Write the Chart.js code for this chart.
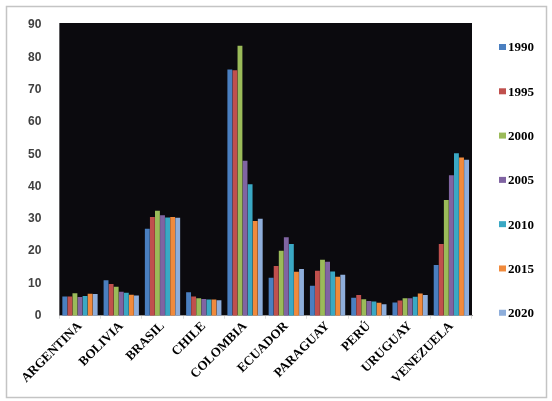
<!DOCTYPE html>
<html>
<head>
<meta charset="utf-8">
<script src="https://cdn.jsdelivr.net/npm/chart.js@4.4.1/dist/chart.umd.min.js"></script>
<style>
  html, body { margin: 0; padding: 0; background: #fff; }
  #wrap { width: 552px; height: 401px; }
</style>
</head>
<body>
<div id="wrap"><canvas id="chart" width="552" height="401"></canvas></div>
<script>
// categories + series
const countries = ['ARGENTINA', 'BOLIVIA', 'BRASIL', 'CHILE', 'COLOMBIA', 'ECUADOR', 'PARAGUAY', 'PERÚ', 'URUGUAY', 'VENEZUELA'];
const years = ['1990', '1995', '2000', '2005', '2010', '2015', '2020'];
const v1990 = [6.0, 11.0, 26.9, 7.3, 76.2, 11.8, 9.3, 5.6, 4.1, 15.7];
const v1995 = [6.0, 9.8, 30.6, 6.0, 76.0, 15.4, 13.9, 6.4, 4.7, 22.2];
const v2000 = [7.0, 9.0, 32.5, 5.4, 83.6, 20.1, 17.3, 5.1, 5.4, 35.8];
const v2005 = [5.8, 7.4, 31.1, 5.2, 48.0, 24.3, 16.7, 4.6, 5.4, 43.5];
const v2010 = [6.1, 7.1, 30.4, 5.0, 40.7, 22.2, 13.7, 4.4, 5.9, 50.3];
const v2015 = [6.8, 6.5, 30.6, 5.0, 29.3, 13.6, 12.1, 4.0, 6.9, 49.0];
const v2020 = [6.7, 6.3, 30.3, 4.8, 30.0, 14.5, 12.7, 3.6, 6.4, 48.3];
const yTicks = [0, 10, 20, 30, 40, 50, 60, 70, 80, 90];

const colors = ['#4a7fc0', '#c0504d', '#9bbb59', '#8064a2', '#3aa8c4', '#f08a3c', '#8eaedb'];
const series = [v1990, v1995, v2000, v2005, v2010, v2015, v2020];

// white page, grey frame, black plot area
const frame = {
  id: 'frame',
  beforeDraw(chart) {
    const { ctx, chartArea: a } = chart;
    ctx.save();
    ctx.fillStyle = '#fff';
    ctx.fillRect(0, 0, chart.width, chart.height);
    ctx.strokeStyle = '#c4c4c4';
    ctx.lineWidth = 1.5;
    ctx.strokeRect(6.5, 6.5, 540, 391);
    ctx.fillStyle = '#0b0a0e';
    ctx.fillRect(a.left, a.top - 2, a.right - a.left, a.bottom - a.top + 2);
    ctx.restore();
  }
};

// legend spread down the right side, like the original
const sideLegend = {
  id: 'sideLegend',
  afterDraw(chart) {
    const { ctx, chartArea: a } = chart;
    const sets = chart.data.datasets;
    const top = a.top + 22, bottom = a.bottom - 3;
    const step = (bottom - top) / (sets.length - 1);
    const x = a.right + 27;
    ctx.save();
    ctx.font = 'bold 13px "Liberation Serif", serif';
    ctx.textBaseline = 'middle';
    sets.forEach((ds, i) => {
      const y = top + i * step;
      ctx.fillStyle = ds.backgroundColor;
      ctx.fillRect(x, y - 3, 7, 6);
      ctx.fillStyle = '#000';
      ctx.fillText(ds.label, x + 9, y + 1);
    });
    ctx.restore();
  }
};

new Chart(document.getElementById('chart').getContext('2d'), {
  type: 'bar',
  data: {
    labels: countries,
    datasets: years.map((y, i) => ({
      label: y,
      data: series[i],
      backgroundColor: colors[i],
      borderWidth: 0,
      categoryPercentage: 0.86,
      barPercentage: 0.96,
    }))
  },
  options: {
    responsive: false,
    animation: false,
    layout: { padding: { top: 25, right: 80, left: 18, bottom: 14 } },
    plugins: { legend: { display: false }, tooltip: { enabled: false } },
    scales: {
      x: {
        grid: { display: true, drawOnChartArea: false, tickLength: 3, color: '#dddddd' },
        border: { color: '#9a9a9a' },
        ticks: {
          color: '#000',
          font: { family: '"Liberation Serif", serif', weight: 'bold', size: 13 },
          minRotation: 45, maxRotation: 45, padding: 0,
        }
      },
      y: {
        min: 0, max: 90,
        afterBuildTicks: axis => { axis.ticks = yTicks.map(v => ({ value: v })); },
        grid: { display: false },
        border: { display: false },
        ticks: {
          color: '#404040',
          font: { family: '"Liberation Sans", sans-serif', weight: 'bold', size: 12 },
          padding: 10,
        }
      }
    }
  },
  plugins: [frame, sideLegend]
});
</script>
</body>
</html>
